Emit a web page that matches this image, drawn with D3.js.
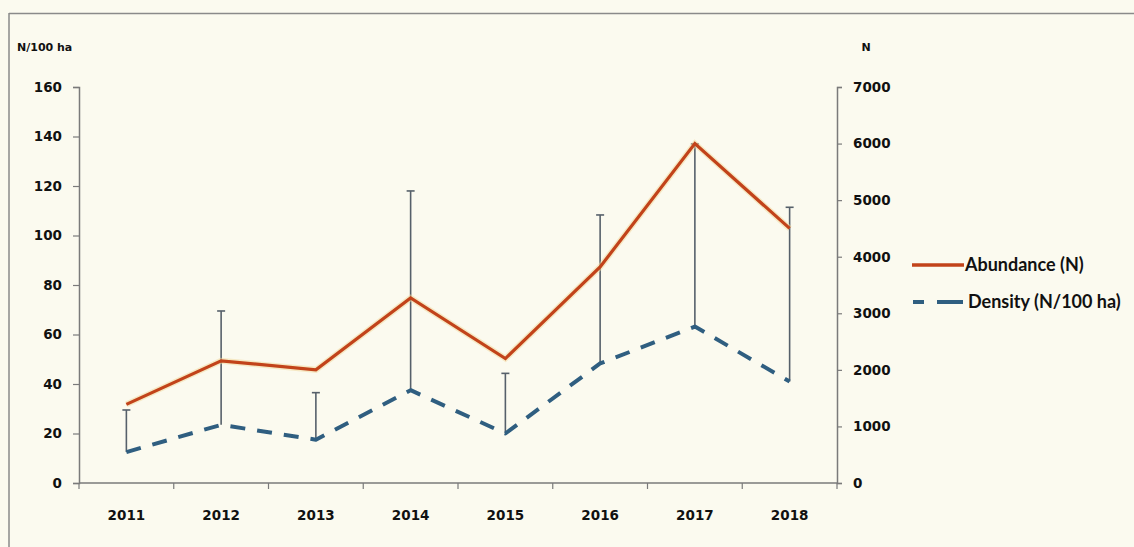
<!DOCTYPE html>
<html>
<head>
<meta charset="utf-8">
<script src="https://cdn.jsdelivr.net/npm/d3@7"></script>
<style>
  html, body { margin: 0; padding: 0; background: #fbfaef; }
  svg { display: block; }
</style>
</head>
<body>
<svg id="chart" width="1134" height="547"></svg>
<script>
const years = ["2011", "2012", "2013", "2014", "2015", "2016", "2017", "2018"];
const abundance = [1390, 2160, 2000, 3270, 2200, 3820, 6000, 4500];   // N (right axis)
const density = [12.5, 23.5, 17.5, 37.5, 20, 48.3, 63.2, 41];         // N/100 ha (left axis)
const densityUpper = [29.5, 69.5, 36.5, 118, 44.3, 108.3, 137, 111.4]; // upper error bound (left axis)
const leftTicks = [0, 20, 40, 60, 80, 100, 120, 140, 160];
const rightTicks = [0, 1000, 2000, 3000, 4000, 5000, 6000, 7000];
const seriesNames = ["Abundance (N)", "Density (N/100 ha)"];

(function () {
const W = 1134, H = 547;
const mLeft = 79, mRight = 837, mTop = 87, mBottom = 483;
const red = "#c2431a", blue = "#2f5e80", errCol = "#56606a", axisCol = "#7a7a7a";
const tickFont = "DejaVu Sans, Verdana, sans-serif";
const legFont = "Lato, 'Open Sans', sans-serif";

const svg = d3.select("#chart");
svg.append("rect").attr("width", W).attr("height", H).attr("fill", "#fbfaef");

// frame lines (scan border)
svg.append("line").attr("x1", 9).attr("x2", W).attr("y1", 13.5).attr("y2", 13.5)
  .attr("stroke", "#8a8a8a").attr("stroke-width", 1.5);
svg.append("line").attr("x1", 9).attr("x2", 9).attr("y1", 13).attr("y2", H)
  .attr("stroke", "#8a8a8a").attr("stroke-width", 1.5);

const x = d3.scaleBand().domain(years).range([mLeft, mRight]).padding(0);
const yL = d3.scaleLinear().domain([0, 160]).range([mBottom, mTop]);
const yR = d3.scaleLinear().domain([0, 7000]).range([mBottom, mTop]);
const cx = d => x(d) + x.bandwidth() / 2;

function styleAxis(g) {
  g.select(".domain").attr("stroke", axisCol).attr("stroke-width", 1.5);
  g.selectAll(".tick line").attr("stroke", axisCol).attr("stroke-width", 1.2);
  g.selectAll("text").attr("fill", "#111").attr("font-family", tickFont)
    .attr("font-weight", "bold").attr("font-size", "13.5px");
}

svg.append("g").attr("transform", `translate(${mLeft},0)`)
  .call(d3.axisLeft(yL).tickValues(leftTicks).tickSize(6).tickPadding(11).tickFormat(d3.format("d")))
  .call(styleAxis);

svg.append("g").attr("transform", `translate(${mRight},0)`)
  .call(d3.axisRight(yR).tickValues(rightTicks).tickSize(5).tickPadding(11).tickFormat(d3.format("d")))
  .call(styleAxis);

const xg = svg.append("g").attr("transform", `translate(0,${mBottom})`)
  .call(d3.axisBottom(x).tickSize(0).tickPadding(27))
  .call(styleAxis);
xg.select(".domain").attr("d", `M${mLeft},0H${mRight}`);
const bounds = years.map(d => x(d)).concat([x(years[years.length - 1]) + x.bandwidth()]);
svg.append("g").selectAll("line").data(bounds).join("line")
  .attr("x1", d => d).attr("x2", d => d).attr("y1", mBottom).attr("y2", mBottom + 6)
  .attr("stroke", axisCol).attr("stroke-width", 1.2);

svg.append("text").attr("x", 17).attr("y", 51).text("N/100 ha")
  .attr("font-family", "DejaVu Sans, sans-serif").attr("font-weight", "bold")
  .attr("font-size", "11px").attr("fill", "#111");
svg.append("text").attr("x", 866).attr("y", 51).text("N").attr("text-anchor", "middle")
  .attr("font-family", "DejaVu Sans, sans-serif").attr("font-weight", "bold")
  .attr("font-size", "11px").attr("fill", "#111");

const eb = svg.append("g");
years.forEach((yr, i) => {
  eb.append("line").attr("x1", cx(yr)).attr("x2", cx(yr))
    .attr("y1", yL(density[i])).attr("y2", yL(densityUpper[i]))
    .attr("stroke", errCol).attr("stroke-width", 1.6);
  eb.append("line").attr("x1", cx(yr) - 4).attr("x2", cx(yr) + 4)
    .attr("y1", yL(densityUpper[i])).attr("y2", yL(densityUpper[i]))
    .attr("stroke", errCol).attr("stroke-width", 1.6);
});

const lineR = d3.line().x((d, i) => cx(years[i])).y(d => yR(d));
svg.append("path").datum(abundance).attr("d", lineR).attr("fill", "none")
  .attr("stroke", "#f2d89a").attr("stroke-opacity", 0.5).attr("stroke-width", 6).attr("stroke-linejoin", "miter");
svg.append("path").datum(abundance).attr("d", lineR).attr("fill", "none")
  .attr("stroke", red).attr("stroke-width", 3.2).attr("stroke-linejoin", "miter");

const lineL = d3.line().x((d, i) => cx(years[i])).y(d => yL(d));
svg.append("path").datum(density).attr("d", lineL).attr("fill", "none")
  .attr("stroke", blue).attr("stroke-width", 4).attr("stroke-dasharray", "15,12")
  .attr("stroke-linejoin", "round");

const lg = svg.append("g");
lg.append("line").attr("x1", 912).attr("x2", 964).attr("y1", 265).attr("y2", 265)
  .attr("stroke", red).attr("stroke-width", 3.5);
lg.append("line").attr("x1", 913).attr("x2", 963).attr("y1", 302).attr("y2", 302)
  .attr("stroke", blue).attr("stroke-width", 4).attr("stroke-dasharray", "11,13,27");
[265, 302].forEach((yy, i) => {
  lg.append("text").attr("x", i === 0 ? 965 : 968).attr("y", yy + 6).text(seriesNames[i])
    .attr("font-family", legFont).attr("font-weight", "bold").attr("font-size", "18px").attr("fill", "#111");
});
})();
</script>
</body>
</html>
